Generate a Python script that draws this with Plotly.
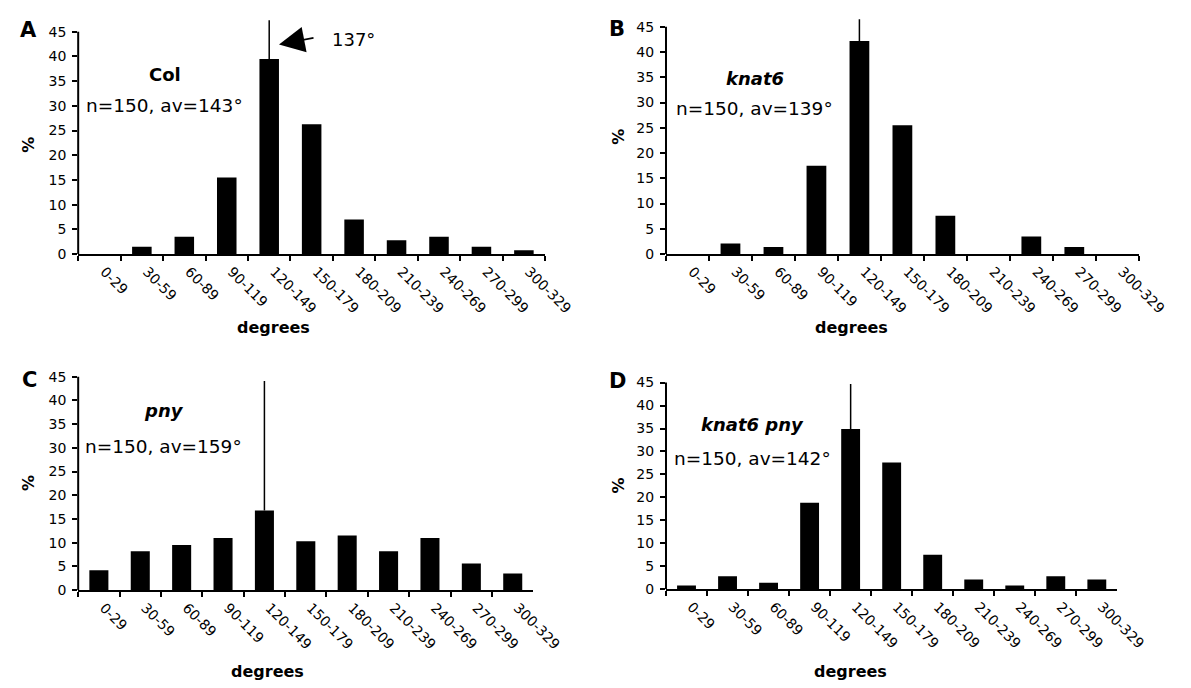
import plotly.graph_objects as go

W, H = 1191, 688

categories = ["0-29", "30-59", "60-89", "90-119", "120-149", "150-179",
              "180-209", "210-239", "240-269", "270-299", "300-329"]
col_pct = [0, 1.5, 3.5, 15.5, 39.5, 26.3, 7.0, 2.8, 3.5, 1.5, 0.8]
knat6_pct = [0, 2.1, 1.4, 17.5, 42.2, 25.5, 7.6, 0, 3.5, 1.4, 0]
pny_pct = [4.2, 8.2, 9.5, 11.0, 16.8, 10.3, 11.5, 8.2, 11.0, 5.6, 3.5]
knat6_pny_pct = [0.8, 2.8, 1.4, 18.8, 34.9, 27.6, 7.5, 2.1, 0.8, 2.8, 2.1]
col_err = [None, None, None, None, 7.8, None, None, None, None, None, None]
knat6_err = [None, None, None, None, 4.3, None, None, None, None, None, None]
pny_err = [None, None, None, None, 27.3, None, None, None, None, None, None]
knat6_pny_err = [None, None, None, None, 9.8, None, None, None, None, None, None]
y_ticks = [0, 5, 10, 15, 20, 25, 30, 35, 40, 45]

FONT = "'DejaVu Sans', Arial, sans-serif"
YMAX = 48

# panel layout in pixels: (x_left, x_right, y_zero, y_45)
panels = [
    dict(name="Col", italic=False, vals=col_pct, err=col_err, letter="A",
         px=(72, 551), py0=249, py45=24, ntext="n=150, av=143°", ncx=161, ny=99, gy=67,
         pct=(21, 138), let=(21, 22), deg=(272, 323)),
    dict(name="knat6", italic=True, vals=knat6_pct, err=knat6_err, letter="B",
         px=(675, 1160), py0=249, py45=19, ntext="n=150, av=139°", ncx=766, ny=102, gy=71,
         pct=(626, 130), let=(625, 21), deg=(865, 323)),
    dict(name="pny", italic=True, vals=pny_pct, err=pny_err, letter="C",
         px=(72, 539), py0=589, py45=373, ntext="n=150, av=159°", ncx=160, ny=444, gy=407,
         pct=(21, 480), let=(22, 376), deg=(266, 671)),
    dict(name="knat6 pny", italic=True, vals=knat6_pny_pct, err=knat6_pny_err, letter="D",
         px=(675, 1138), py0=588, py45=379, ntext="n=150, av=142°", ncx=764, ny=456, gy=421,
         pct=(626, 483), let=(625, 377), deg=(864, 671)),
]

fig = go.Figure()
annotations = []
shapes = []

def px2x(x):
    return x / W

def py2y(y):
    return 1 - y / H

for i, p in enumerate(panels):
    k = "" if i == 0 else str(i + 1)
    xa, ya = "x" + k, "y" + k
    fig.add_trace(go.Bar(
        x=categories, y=p["vals"], xaxis=xa, yaxis=ya,
        marker=dict(color="black", line=dict(width=0)),
        width=0.46,
        error_y=dict(type="data", array=p["err"], symmetric=False,
                     arrayminus=[0] * len(categories),
                     color="black", thickness=1.5, width=0),
        showlegend=False, hoverinfo="skip",
    ))
    scale = (p["py0"] - p["py45"]) / 45.0
    ytop = p["py0"] - YMAX * scale
    xd = [px2x(p["px"][0]), px2x(p["px"][1])]
    yd = [py2y(p["py0"]), py2y(ytop)]
    fig.layout["xaxis" + k] = dict(
        domain=xd, anchor=ya, type="category", range=[-0.5, 10.5],
        showline=True, linecolor="black", linewidth=2,
        ticks="outside", tickson="boundaries", ticklen=5, tickwidth=2, tickcolor="black",
        tickangle=45, ticklabelshift=5, ticklabelstandoff=2,
        tickfont=dict(family=FONT, size=14, color="black"),
        showgrid=False, zeroline=False, fixedrange=True,
    )
    fig.layout["yaxis" + k] = dict(
        domain=yd, anchor=xa, range=[0, YMAX],
        tickvals=y_ticks, ticktext=[str(t) for t in y_ticks],
        ticks="outside", ticklen=5, tickwidth=2, tickcolor="black",
        ticklabelstandoff=3,
        tickfont=dict(family=FONT, size=14, color="black"),
        showline=False, showgrid=False, zeroline=False, fixedrange=True,
    )
    # y axis line from 0 to 45
    shapes.append(dict(type="line", xref=xa + " domain", yref=ya,
                       x0=0, x1=0, y0=0, y1=45,
                       line=dict(color="black", width=2)))
    gname = "<b><i>%s</i></b>" % p["name"] if p["italic"] else "<b>%s</b>" % p["name"]
    annotations += [
        dict(text=gname, x=px2x(p["ncx"]), y=py2y(p["gy"]), xref="paper", yref="paper",
             showarrow=False, font=dict(family=FONT, size=18, color="black"),
             xanchor="center", yanchor="middle"),
        dict(text=p["ntext"], x=px2x(p["ncx"]), y=py2y(p["ny"]), xref="paper", yref="paper",
             showarrow=False, font=dict(family=FONT, size=18.5, color="black"),
             xanchor="center", yanchor="middle"),
        dict(text="<b>%</b>", x=px2x(p["pct"][0]), y=py2y(p["pct"][1]), xref="paper", yref="paper",
             showarrow=False, textangle=-90, font=dict(family=FONT, size=16, color="black"),
             xanchor="center", yanchor="middle"),
        dict(text="<b>%s</b>" % p["letter"], x=px2x(p["let"][0]), y=py2y(p["let"][1]),
             xref="paper", yref="paper", showarrow=False,
             font=dict(family=FONT, size=21, color="black"), xanchor="center", yanchor="middle"),
        dict(text="<b>degrees</b>", x=px2x(p["deg"][0]), y=py2y(p["deg"][1]),
             xref="paper", yref="paper", showarrow=False,
             font=dict(family=FONT, size=16, color="black"), xanchor="center", yanchor="middle"),
    ]

# arrow and label for 137°
annotations.append(dict(text="", x=px2x(278), y=py2y(37), xref="paper", yref="paper",
                        showarrow=True, ax=36, ay=-7, arrowhead=2, arrowsize=3.2,
                        arrowwidth=1.6, arrowcolor="black", standoff=0))
annotations.append(dict(text="137°", x=px2x(354), y=py2y(32), xref="paper", yref="paper",
                        showarrow=False, font=dict(family=FONT, size=18, color="black"),
                        xanchor="center", yanchor="middle"))

fig.update_layout(
    width=W, height=H, margin=dict(l=0, r=0, t=0, b=0),
    paper_bgcolor="white", plot_bgcolor="white",
    bargap=0.54, annotations=annotations, shapes=shapes,
    font=dict(family=FONT, color="black"),
)

fig.write_html("out.html")
